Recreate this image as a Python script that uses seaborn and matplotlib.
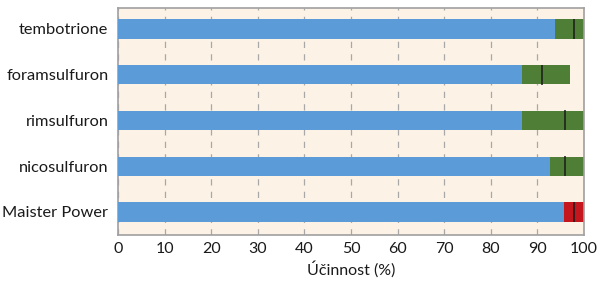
import matplotlib
matplotlib.use("Agg")
import matplotlib.pyplot as plt
import seaborn as sns
import pandas as pd

categories = ["tembotrione", "foramsulfuron", "rimsulfuron", "nicosulfuron", "Maister Power"]
min_vals = [93.8, 86.8, 86.8, 92.8, 95.8]
max_vals = [100, 97.1, 100, 100, 100]
mean_vals = [97.9, 91.0, 96.0, 96.0, 98.0]
range_colors = ["#4f7f37", "#4f7f37", "#4f7f37", "#4f7f37", "#c4161c"]
xticks = [0, 10, 20, 30, 40, 50, 60, 70, 80, 90, 100]
xlabel = "Účinnost (%)"

df = pd.DataFrame({"cat": categories, "min": min_vals, "max": max_vals, "mean": mean_vals})

sns.set_style("white")
plt.rcParams["font.family"] = ["Lato", "DejaVu Sans"]

fig = plt.figure(figsize=(6.0, 2.84), dpi=100)
ax = fig.add_axes([0.197, 0.173, 0.776, 0.799])
ax.set_facecolor("#fcf2e6")

sns.barplot(data=df, y="cat", x="max", hue="cat", palette=range_colors, legend=False,
            orient="h", width=0.42, saturation=1, linewidth=0, edgecolor="none",
            ax=ax, zorder=2)
sns.barplot(data=df, y="cat", x="min", color="#5b9bd8", orient="h", width=0.42,
            saturation=1, linewidth=0, edgecolor="none", ax=ax, zorder=3)
sns.scatterplot(data=df, y="cat", x="mean", marker="|", s=190, color="#1a1a1a",
                linewidth=1.1, ax=ax, zorder=4, legend=False)

ax.set_xlim(0, 100)
ax.set_ylim(4.5, -0.46)
ax.set_xticks(xticks)
ax.set_xticklabels([str(t) for t in xticks], fontsize=11.5, color="#1a1a1a")
ax.tick_params(axis="y", labelsize=11.8, colors="#1a1a1a", length=0, pad=7)
ax.tick_params(axis="x", length=0, pad=5)
ax.set_ylabel("")
ax.set_xlabel(xlabel, fontsize=11.5, color="#1a1a1a", labelpad=4)
ax.xaxis.grid(True, linestyle=(0, (5, 5)), color="#a8a8a8", linewidth=0.9, zorder=1)
ax.yaxis.grid(False)
ax.set_axisbelow(True)
for s in ax.spines.values():
    s.set_color("#a0a0a0")
    s.set_linewidth(1.2)

fig.savefig("out.png", dpi=100)
